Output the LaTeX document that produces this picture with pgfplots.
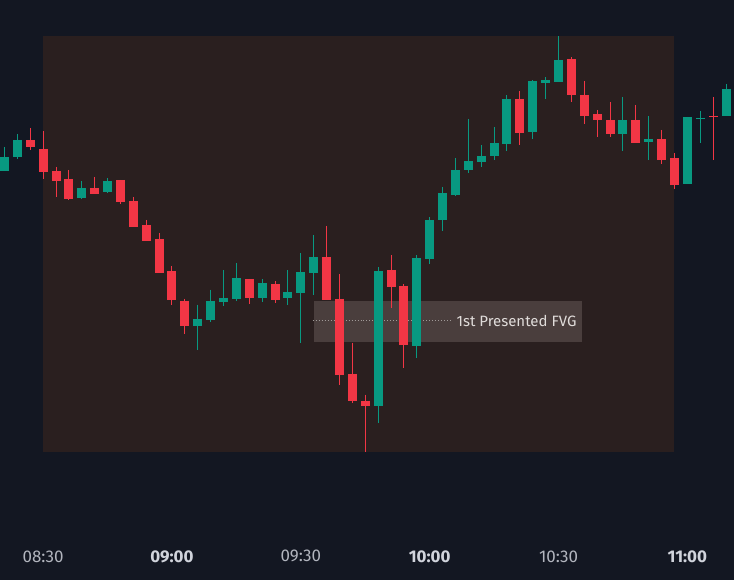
\documentclass[border=0pt]{standalone}
\usepackage{pgfplots}
\pgfplotsset{compat=1.18}
\usepackage{pgfplotstable}
\usepackage{fontspec}
\setmainfont{Fira Sans}
\definecolor{bg}{HTML}{131722}
\definecolor{shade}{HTML}{2A1F1F}
\definecolor{fvg}{HTML}{4A3E3D}
\definecolor{tvgreen}{HTML}{089981}
\definecolor{tvred}{HTML}{F23645}
\definecolor{labreg}{HTML}{B2B5BE}
\definecolor{labbold}{HTML}{D1D4DC}
\definecolor{dotc}{HTML}{A09A98}
\definecolor{fvgtext}{HTML}{E0DCDA}

% candle index k (3-minute bars, 0 = 08:30), open/high/low/close in chart units (downward positive)
\pgfplotstableread{
k  o   h   l   c
-3 171 147 171 157
-2 157 134 159 140
3  198 181 199 188
5  192 178 193 181
12 326 305 350 319
13 320 290 322 301
14 302 270 306 298
15 299 263 301 278
17 298 279 302 283
19 298 270 305 292
20 293 253 343 272
21 273 235 295 257
26 406 267 423 271
29 346 255 358 258
30 259 217 264 220
31 220 187 231 193
32 195 158 196 170
33 170 119 173 161
34 162 145 167 156
35 156 127 160 143
36 144 95  151 99
38 132 80  139 81
39 83  77  99  80
40 82  36  82  60
45 134 97  151 120
47 142 116 160 139
50 184 117 184 117
51 119 111 143 118
53 116 84  116 89
}\greencandles

\pgfplotstableread{
k  o   h   l   c
-1 140 128 150 147
0  149 131 179 172
1  171 167 197 181
2  179 170 200 199
4  188 177 194 194
6  180 180 204 202
7  201 197 227 227
8  225 220 241 241
9  239 233 273 273
10 271 266 305 300
11 301 299 334 326
16 279 279 304 298
18 284 281 303 300
22 257 226 300 300
23 299 274 385 375
24 374 343 403 401
25 401 395 452 406
27 270 255 308 287
28 286 284 368 345
37 99  91  145 133
41 59  57  102 95
42 95  81  124 116
43 114 110 137 120
44 120 102 137 134
46 120 105 143 143
48 139 130 164 160
49 158 153 189 185
52 116 97  160 117
}\redcandles

\begin{document}
\begin{tikzpicture}
% background bleed (overlay: does not change the picture size)
\fill[bg, overlay] (-6pt,-6pt) rectangle (740pt,586pt);
\begin{axis}[
  anchor=south west, at={(0pt,0pt)},
  width=734pt, height=580pt, scale only axis,
  xmin=-3.279, xmax=53.62, ymin=0, ymax=580,
  y dir=reverse,
  axis background/.style={fill=bg},
  axis line style={draw=none},
  major tick length=0pt,
  ytick=\empty,
  xtick={0,10,20,30,40,50},
  xticklabels={{\color{labreg}08:30},{\color{labbold}\bfseries 09:00},{\color{labreg}09:30},{\color{labbold}\bfseries 10:00},{\color{labreg}10:30},{\color{labbold}\bfseries 11:00}},
  xticklabel pos=lower,
  xticklabel style={anchor=center, yshift=23pt, font=\fontsize{17}{17}\selectfont},
  clip=false,
]
% shaded session region
\addplot[fill=shade, draw=none] coordinates {(-0.02,36) (48.97,36) (48.97,452) (-0.02,452)} -- cycle;
% FVG box
\addplot[fill=fvg, draw=none] coordinates {(21.06,301) (41.84,301) (41.84,342) (21.06,342)} -- cycle;
% dotted line
\addplot[dotc, line width=1pt, dash pattern=on 1pt off 2pt] coordinates {(20.91,321) (31.68,321)};
% wicks
\addplot[draw=none, mark=none, error bars/.cd, y dir=plus, y explicit, error mark=none,
  error bar style={line width=1pt, draw=tvgreen, solid}]
  table[x=k, y=h, y error plus expr=\thisrow{l}-\thisrow{h}] {\greencandles};
\addplot[draw=none, mark=none, error bars/.cd, y dir=plus, y explicit, error mark=none,
  error bar style={line width=1pt, draw=tvred, solid}]
  table[x=k, y=h, y error plus expr=\thisrow{l}-\thisrow{h}] {\redcandles};
% bodies
\addplot[draw=none, mark=none, error bars/.cd, y dir=plus, y explicit, error mark=none,
  error bar style={line width=9pt, draw=tvgreen, solid}]
  table[x=k, y=c, y error plus expr=\thisrow{o}-\thisrow{c}] {\greencandles};
\addplot[draw=none, mark=none, error bars/.cd, y dir=plus, y explicit, error mark=none,
  error bar style={line width=9pt, draw=tvred, solid}]
  table[x=k, y=o, y error plus expr=\thisrow{c}-\thisrow{o}] {\redcandles};
% label
\node[anchor=west, inner sep=0pt, text=fvgtext, font=\fontsize{15}{15}\selectfont] at (axis cs:32.07,321) {1st Presented FVG};
\end{axis}
\end{tikzpicture}
\end{document}
